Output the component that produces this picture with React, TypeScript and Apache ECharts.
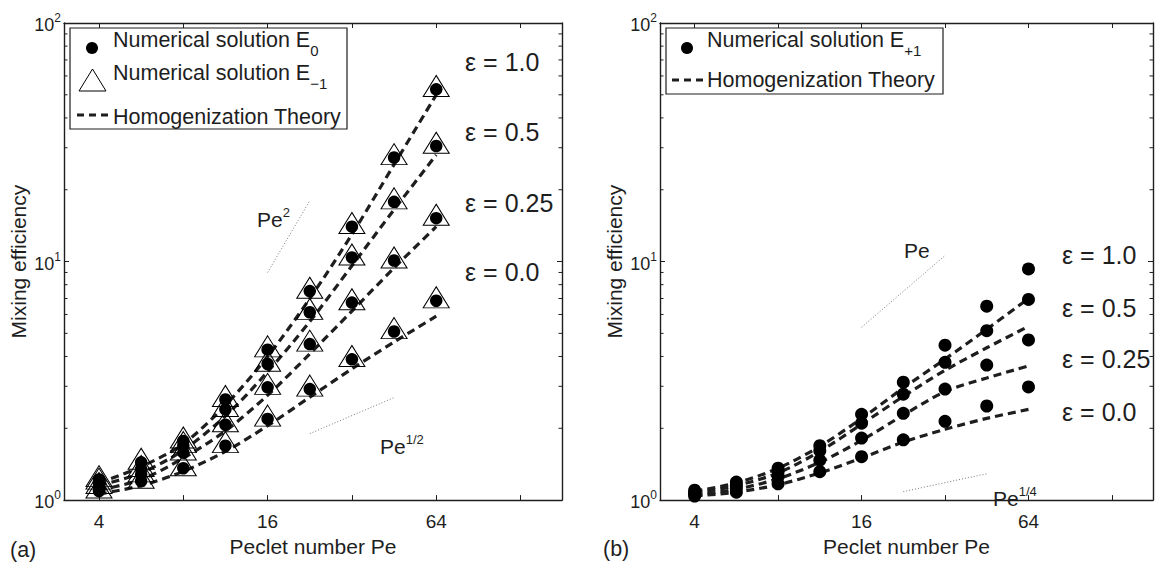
import React, { useEffect, useRef } from "react";
import * as echarts from "echarts";

const FONT = "'Liberation Sans', Arial, Helvetica, sans-serif";
const INK = "#1e1e1e";

// Peclet numbers of the computed points
const PE = [4, 5.657, 8, 11.31, 16, 22.63, 32, 45.25, 64];
const X_MIN = 3;
const X_MAX = 180;
const Y_MIN = 1;
const Y_MAX = 100;
const X_TICK_LABELS = [4, 16, 64];
const Y_MINOR_TICKS = [2, 3, 4, 5, 6, 7, 8, 9, 20, 30, 40, 50, 60, 70, 80, 90];
const EPS_TEXT = ["ε = 1.0", "ε = 0.5", "ε = 0.25", "ε = 0.0"];

// Panel (a): numerical solution E0 (dots)
const A_E0_10 = [1.22, 1.44, 1.77, 2.64, 4.27, 7.52, 14.0, 27.3, 52.7];
const A_E0_05 = [1.19, 1.35, 1.69, 2.4, 3.72, 6.13, 10.4, 17.8, 30.5];
const A_E0_025 = [1.14, 1.28, 1.58, 2.07, 2.97, 4.51, 6.73, 10.1, 15.2];
const A_E0_00 = [1.09, 1.2, 1.36, 1.69, 2.19, 2.92, 3.89, 5.09, 6.85];
// Panel (a): numerical solution E-1 (triangles)
const A_EM1_10 = [1.26, 1.49, 1.83, 2.73, 4.41, 7.77, 14.5, 28.2, 54.4];
const A_EM1_05 = [1.23, 1.39, 1.75, 2.48, 3.84, 6.33, 10.7, 18.4, 31.5];
const A_EM1_025 = [1.18, 1.32, 1.63, 2.14, 3.07, 4.66, 6.95, 10.4, 15.7];
const A_EM1_00 = [1.13, 1.24, 1.4, 1.75, 2.26, 3.02, 4.02, 5.26, 7.08];
// Panel (a): homogenization theory
const A_TH_10 = [1.18, 1.38, 1.72, 2.5, 4.0, 7.0, 13.0, 25.5, 50];
const A_TH_05 = [1.15, 1.3, 1.62, 2.25, 3.45, 5.6, 9.6, 16.5, 28];
const A_TH_025 = [1.1, 1.22, 1.5, 1.95, 2.75, 4.1, 6.2, 9.4, 14];
const A_TH_00 = [1.06, 1.15, 1.32, 1.6, 2.05, 2.7, 3.55, 4.6, 5.9];
// Panel (a): slope guides
const A_PE2 = [[16, 9], [22.63, 18]];
const A_PE12 = [[22.63, 1.9], [45.25, 2.69]];

// Panel (b): numerical solution E+1 (dots)
const B_E1_10 = [1.1, 1.19, 1.36, 1.69, 2.29, 3.12, 4.46, 6.5, 9.31];
const B_E1_05 = [1.075, 1.155, 1.315, 1.61, 2.1, 2.78, 3.78, 5.13, 6.94];
const B_E1_025 = [1.06, 1.12, 1.255, 1.47, 1.82, 2.31, 2.92, 3.68, 4.69];
const B_E1_00 = [1.04, 1.08, 1.17, 1.315, 1.52, 1.79, 2.14, 2.48, 2.98];
// Panel (b): homogenization theory
const B_TH_10 = [1.09, 1.18, 1.36, 1.68, 2.2, 2.95, 3.9, 5.2, 7.0];
const B_TH_05 = [1.07, 1.15, 1.3, 1.6, 2.08, 2.72, 3.5, 4.35, 5.35];
const B_TH_025 = [1.05, 1.11, 1.23, 1.44, 1.78, 2.27, 2.85, 3.25, 3.65];
const B_TH_00 = [1.04, 1.08, 1.16, 1.3, 1.5, 1.75, 1.98, 2.2, 2.4];
// Panel (b): slope guides
const B_PE1 = [[16, 5.3], [32, 10.6]];
const B_PE14 = [[22.63, 1.085], [45.25, 1.29]];

const pts = (vals: number[]) => PE.map((p, i) => [p, vals[i]]);

const GRIDS = [
  { left: 64, top: 23, width: 498, height: 496.5 },
  { left: 660, top: 23, width: 495, height: 496.5 },
];

function axesFor(gi: number) {
  const axisLine = { show: true, lineStyle: { color: INK, width: 1.4 } };
  const tick = { show: true, inside: true, length: 5, lineStyle: { color: INK, width: 1 } };
  const xBottom = {
    type: "log", logBase: 2, gridIndex: gi, min: X_MIN, max: X_MAX, position: "bottom",
    axisLine, axisTick: tick, splitLine: { show: false },
    axisLabel: {
      margin: 12, fontSize: 19, fontFamily: FONT, color: INK,
      formatter: (v: number) => (X_TICK_LABELS.indexOf(Math.round(v)) >= 0 && Math.abs(v - Math.round(v)) < 1e-6 ? String(Math.round(v)) : ""),
    },
    name: "Peclet number Pe", nameLocation: "middle", nameGap: 21,
    nameTextStyle: { fontSize: 21, fontFamily: FONT, color: INK },
  };
  const xTop = {
    type: "log", logBase: 2, gridIndex: gi, min: X_MIN, max: X_MAX, position: "top",
    axisLine, axisTick: tick, splitLine: { show: false }, axisLabel: { show: false },
  };
  const yLeft = {
    type: "log", logBase: 10, gridIndex: gi, min: Y_MIN, max: Y_MAX, position: "left",
    axisLine, axisTick: tick, splitLine: { show: false },
    axisLabel: {
      margin: 3, color: INK,
      formatter: (v: number) => `{b|10}{s|${Math.round(Math.log10(v))}}`,
      rich: {
        b: { fontSize: 18, fontFamily: FONT, color: INK, lineHeight: 22, verticalAlign: "bottom" },
        s: { fontSize: 12, fontFamily: FONT, color: INK, verticalAlign: "top" },
      },
    },
    name: "Mixing efficiency", nameLocation: "middle", nameGap: 35,
    nameTextStyle: { fontSize: 21, fontFamily: FONT, color: INK },
  };
  const yRight = {
    type: "log", logBase: 10, gridIndex: gi, min: Y_MIN, max: Y_MAX, position: "right",
    axisLine, axisTick: tick, splitLine: { show: false }, axisLabel: { show: false },
  };
  return { x: [xBottom, xTop], y: [yLeft, yRight] };
}

function minorTickSeries(axisIndex: number) {
  return {
    type: "custom",
    xAxisIndex: axisIndex,
    yAxisIndex: axisIndex,
    clip: false,
    silent: true,
    z: 6,
    data: Y_MINOR_TICKS.map((v) => [X_MIN, v]),
    encode: { x: 0, y: 1 },
    renderItem: (_p: any, api: any) => {
      const v = api.value(1);
      const l = api.coord([X_MIN, v]);
      const r = api.coord([X_MAX, v]);
      return {
        type: "group",
        children: [
          { type: "line", shape: { x1: l[0], y1: l[1], x2: l[0] + 3.5, y2: l[1] }, style: { stroke: INK, lineWidth: 1 } },
          { type: "line", shape: { x1: r[0], y1: r[1], x2: r[0] - 3.5, y2: r[1] }, style: { stroke: INK, lineWidth: 1 } },
        ],
      };
    },
  };
}

const theory = (axisIndex: number, vals: number[]) => ({
  type: "line", name: "Homogenization Theory", xAxisIndex: axisIndex, yAxisIndex: axisIndex,
  data: pts(vals), smooth: 0.3, symbol: "none", showSymbol: false, z: 2,
  lineStyle: { color: INK, width: 3.2, type: [8, 5], opacity: 1 },
});
const dots = (axisIndex: number, vals: number[], size: number, name: string) => ({
  type: "scatter", name, xAxisIndex: axisIndex, yAxisIndex: axisIndex,
  data: pts(vals), symbol: "circle", symbolSize: size, z: 4,
  itemStyle: { color: "#000", opacity: 1 },
});
const tris = (axisIndex: number, vals: number[]) => ({
  type: "scatter", name: "Numerical solution E-1", xAxisIndex: axisIndex, yAxisIndex: axisIndex,
  data: pts(vals), symbol: "triangle", symbolSize: [26, 21], z: 3,
  itemStyle: { color: "rgba(0,0,0,0)", borderColor: "#000", borderWidth: 1, opacity: 1 },
});
const guide = (axisIndex: number, data: number[][]) => ({
  type: "line", xAxisIndex: axisIndex, yAxisIndex: axisIndex, data, symbol: "none", z: 1,
  lineStyle: { color: "#777", width: 1, type: [1, 2] },
});

const legendRich = {
  m: { fontSize: 21.5, fontFamily: FONT, fill: INK, lineHeight: 29, verticalAlign: "top" },
  sub: { fontSize: 15, fontFamily: FONT, fill: INK, verticalAlign: "bottom" },
};
const supRich = {
  m: { fontSize: 21, fontFamily: FONT, fill: INK, lineHeight: 24, verticalAlign: "bottom" },
  sup: { fontSize: 13, fontFamily: FONT, fill: INK, verticalAlign: "top" },
};

function txt(x: number, y: number, text: string, size = 21.5, extra: any = {}) {
  return {
    type: "text", x, y, z: 20,
    style: { text, fontSize: size, fontFamily: FONT, fill: INK, verticalAlign: "middle", align: "left", ...extra },
  };
}

function buildGraphic() {
  const g: any[] = [];
  // legend (a)
  g.push({ type: "rect", shape: { x: 70, y: 28, width: 277, height: 101 }, style: { fill: "#fff", stroke: INK, lineWidth: 1.2 }, z: 15 });
  g.push({ type: "circle", shape: { cx: 92, cy: 48, r: 6 }, style: { fill: "#000" }, z: 16 });
  g.push({ type: "polygon", shape: { points: [[79, 91], [106, 91], [92.5, 69]] }, style: { fill: "none", stroke: "#000", lineWidth: 1 }, z: 16 });
  g.push({ type: "line", shape: { x1: 77, y1: 115, x2: 108, y2: 115 }, style: { stroke: INK, lineWidth: 3, lineDash: [7, 5] }, z: 16 });
  g.push({ type: "text", x: 113, y: 29, z: 20, style: { text: "{m|Numerical solution E}{sub|0}", rich: legendRich, verticalAlign: "top" } });
  g.push({ type: "text", x: 113, y: 61.5, z: 20, style: { text: "{m|Numerical solution E}{sub|−1}", rich: legendRich, verticalAlign: "top" } });
  g.push(txt(113, 117, "Homogenization Theory"));
  // legend (b)
  g.push({ type: "rect", shape: { x: 666, y: 28, width: 277, height: 66 }, style: { fill: "#fff", stroke: INK, lineWidth: 1.2 }, z: 15 });
  g.push({ type: "circle", shape: { cx: 687, cy: 48, r: 6 }, style: { fill: "#000" }, z: 16 });
  g.push({ type: "line", shape: { x1: 672, y1: 80, x2: 703, y2: 80 }, style: { stroke: INK, lineWidth: 3, lineDash: [7, 5] }, z: 16 });
  g.push({ type: "text", x: 707, y: 29, z: 20, style: { text: "{m|Numerical solution E}{sub|+1}", rich: legendRich, verticalAlign: "top" } });
  g.push(txt(707, 80, "Homogenization Theory"));
  // epsilon labels
  const ay = [62, 132, 203, 272];
  const by = [255, 308, 359, 412];
  EPS_TEXT.forEach((t, i) => {
    g.push(txt(465, ay[i], t, 25));
    g.push(txt(1062, by[i], t, 25));
  });
  // slope labels
  g.push({ type: "text", x: 257, y: 219.5 - 13.5, z: 20, style: { text: "{m|Pe}{sup|2}", rich: supRich, verticalAlign: "top" } });
  g.push({ type: "text", x: 380, y: 446 - 13.5, z: 20, style: { text: "{m|Pe}{sup|1/2}", rich: supRich, verticalAlign: "top" } });
  g.push(txt(904, 250, "Pe", 21));
  g.push({ type: "text", x: 993, y: 498 - 13.5, z: 20, style: { text: "{m|Pe}{sup|1/4}", rich: supRich, verticalAlign: "top" } });
  // panel tags
  g.push(txt(10, 550, "(a)"));
  g.push(txt(603, 549, "(b)"));
  return g;
}

export default function App() {
  const ref = useRef<HTMLDivElement>(null);
  useEffect(() => {
    if (!ref.current) return;
    const chart = echarts.init(ref.current, undefined, { renderer: "svg" });
    const a = axesFor(0);
    const b = axesFor(1);
    const option: any = {
      animation: false,
      backgroundColor: "#fff",
      textStyle: { fontFamily: FONT },
      grid: GRIDS,
      xAxis: [...a.x, ...b.x],
      yAxis: [...a.y, ...b.y],
      graphic: buildGraphic(),
      series: [
        guide(0, A_PE2),
        guide(0, A_PE12),
        theory(0, A_TH_10),
        theory(0, A_TH_05),
        theory(0, A_TH_025),
        theory(0, A_TH_00),
        tris(0, A_EM1_10),
        tris(0, A_EM1_05),
        tris(0, A_EM1_025),
        tris(0, A_EM1_00),
        dots(0, A_E0_10, 12.5, "Numerical solution E0"),
        dots(0, A_E0_05, 12.5, "Numerical solution E0"),
        dots(0, A_E0_025, 12.5, "Numerical solution E0"),
        dots(0, A_E0_00, 12.5, "Numerical solution E0"),
        minorTickSeries(0),
        guide(2, B_PE1),
        guide(2, B_PE14),
        theory(2, B_TH_10),
        theory(2, B_TH_05),
        theory(2, B_TH_025),
        theory(2, B_TH_00),
        dots(2, B_E1_10, 13, "Numerical solution E+1"),
        dots(2, B_E1_05, 13, "Numerical solution E+1"),
        dots(2, B_E1_025, 13, "Numerical solution E+1"),
        dots(2, B_E1_00, 13, "Numerical solution E+1"),
        minorTickSeries(2),
      ],
    };
    chart.setOption(option);
    return () => chart.dispose();
  }, []);
  return <div ref={ref} style={{ position: "fixed", left: 0, top: 0, width: 1156, height: 562, background: "#fff" }} />;
}
